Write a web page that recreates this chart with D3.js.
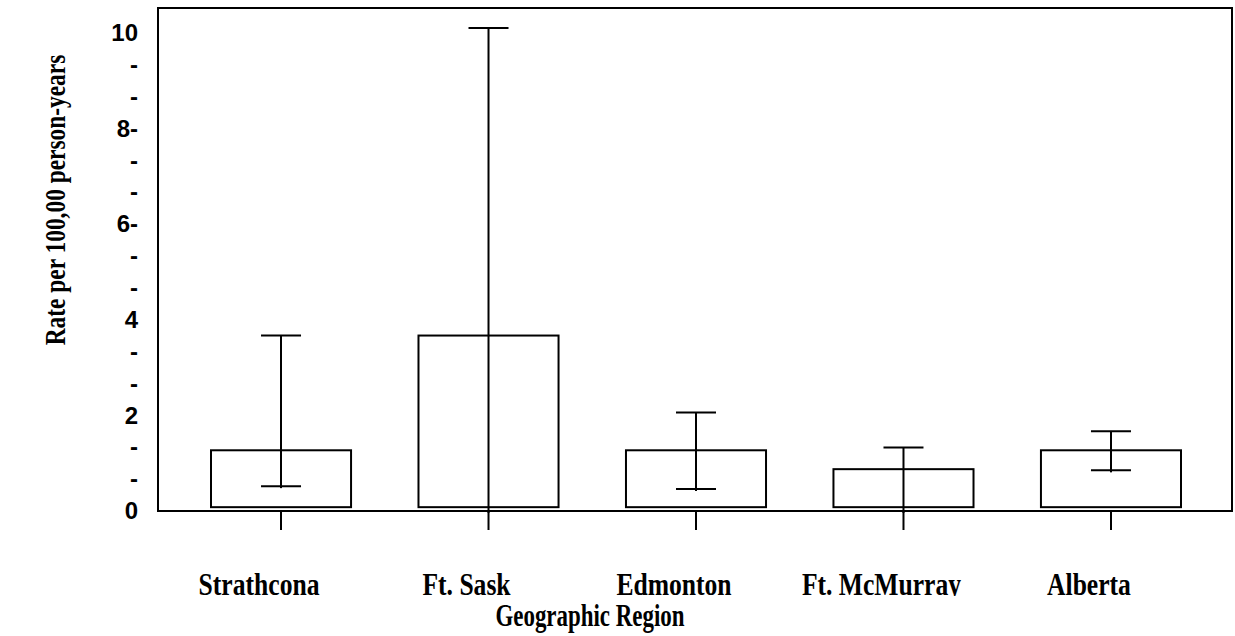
<!DOCTYPE html>
<html>
<head>
<meta charset="utf-8">
<script src="https://cdn.jsdelivr.net/npm/d3@7"></script>
<style>
  html, body { margin: 0; padding: 0; background: #fff; }
  svg { display: block; }
</style>
</head>
<body>
<svg id="chart" width="1235" height="636"></svg>
<script>
// Incidence rate by region, with 95% confidence limits
const regions = ["Strathcona", "Ft. Sask", "Edmonton", "Ft. McMurray", "Alberta"];
const rates   = [1.27, 3.67, 1.27, 0.875, 1.27];
const upper   = [3.67, 10.1, 2.06, 1.33, 1.67];
const lower   = [0.52, 0.0, 0.46, 0.0, 0.85];
const barBase = 0.08;

// y-axis tick values and their printed labels
const yTickValues = d3.range(16).map(i => i * 2 / 3);
const yTickLabels = ["0", "-", "-", "2", "-", "-", "4", "-", "-", "6-", "-", "-", "8-", "-", "-", "10"];

const svg = d3.select("#chart");
const frame = { left: 158, right: 1232, top: 8, bottom: 511 };
const serif = "Liberation Serif, Times New Roman, serif";

const y = d3.scaleLinear().domain([0, 10.5]).range([frame.bottom, frame.top + 1]);

const x = d3.scaleBand()
  .domain(regions)
  .range([211, 1181])
  .paddingInner(0.325)
  .paddingOuter(0);

const cx = d => x(d) + x.bandwidth() / 2;

// plot frame
svg.append("rect")
  .attr("x", frame.left).attr("y", frame.top)
  .attr("width", frame.right - frame.left)
  .attr("height", frame.bottom - frame.top)
  .attr("fill", "none").attr("stroke", "#000").attr("stroke-width", 2);

// bars
svg.append("g").selectAll("rect")
  .data(regions)
  .join("rect")
  .attr("x", d => x(d))
  .attr("width", x.bandwidth())
  .attr("y", (d, i) => y(rates[i]))
  .attr("height", (d, i) => y(barBase) - y(rates[i]))
  .attr("fill", "#fff")
  .attr("stroke", "#000")
  .attr("stroke-width", 2);

// category ticks below the axis
svg.append("g").selectAll("line")
  .data(regions)
  .join("line")
  .attr("x1", cx).attr("x2", cx)
  .attr("y1", frame.bottom).attr("y2", frame.bottom + 19)
  .attr("stroke", "#000").attr("stroke-width", 2);

// confidence interval whiskers
const capHalf = 20;
const whiskers = svg.append("g").attr("stroke", "#000").attr("stroke-width", 2);
regions.forEach((d, i) => {
  const c = cx(d);
  whiskers.append("line")
    .attr("x1", c).attr("x2", c)
    .attr("y1", y(lower[i]) + 2).attr("y2", y(upper[i]));
  whiskers.append("line")
    .attr("x1", c - capHalf).attr("x2", c + capHalf)
    .attr("y1", y(upper[i])).attr("y2", y(upper[i]));
  whiskers.append("line")
    .attr("x1", c - capHalf).attr("x2", c + capHalf)
    .attr("y1", y(lower[i])).attr("y2", y(lower[i]));
});

// y axis labels
const yAxis = d3.axisLeft(y)
  .tickValues(yTickValues)
  .tickFormat((d, i) => yTickLabels[i])
  .tickSize(0)
  .tickPadding(20);

const yg = svg.append("g")
  .attr("transform", `translate(${frame.left},0)`)
  .call(yAxis);
yg.select(".domain").remove();
yg.selectAll("text")
  .attr("font-family", "Liberation Sans, Arial, sans-serif")
  .attr("font-weight", "bold")
  .attr("font-size", 24)
  .attr("fill", "#000");

// category labels (descenders trimmed at the baseline)
svg.append("defs").append("clipPath").attr("id", "labelClip")
  .append("rect").attr("x", 0).attr("y", 540).attr("width", 1235).attr("height", 56);

svg.append("g")
  .attr("clip-path", "url(#labelClip)")
  .selectAll("text")
  .data(regions)
  .join("text")
  .attr("transform", d => `translate(${cx(d) - 22},595) scale(0.8,1)`)
  .attr("text-anchor", "middle")
  .attr("font-family", serif)
  .attr("font-weight", "bold")
  .attr("font-size", 32)
  .text(d => d);

// axis titles
svg.append("text")
  .attr("transform", "translate(590,626) scale(0.74,1)")
  .attr("text-anchor", "middle")
  .attr("font-family", serif)
  .attr("font-weight", "bold")
  .attr("font-size", 31)
  .text("Geographic Region");

svg.append("text")
  .attr("transform", "translate(65,200) rotate(-90) scale(0.78,1)")
  .attr("text-anchor", "middle")
  .attr("font-family", serif)
  .attr("font-weight", "bold")
  .attr("font-size", 30)
  .text("Rate per 100,00 person-years");
</script>
</body>
</html>
